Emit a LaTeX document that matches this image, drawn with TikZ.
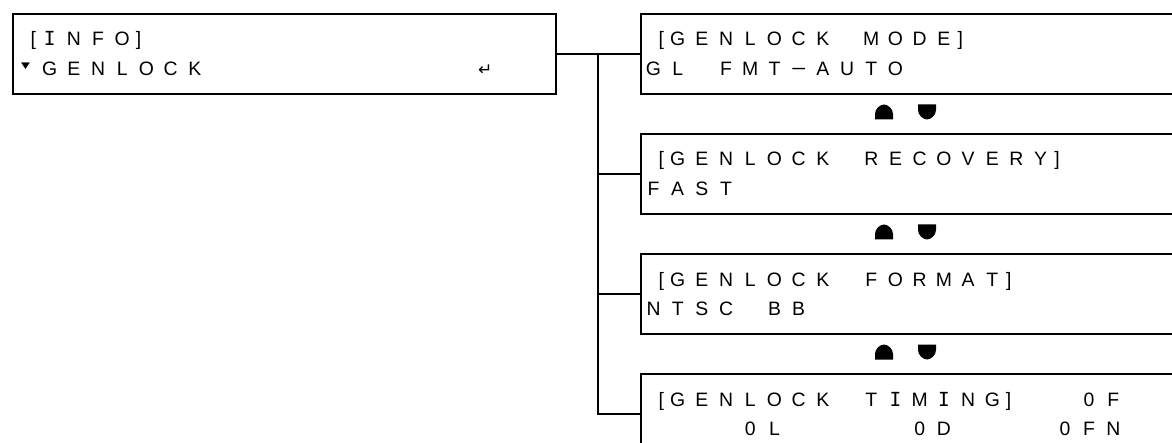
\documentclass[tikz,border=0pt]{standalone}
\usepackage{fontspec}
\usepackage{graphicx}
\setmainfont{Liberation Sans}
\newfontfamily\symfont{DejaVu Sans}
\newfontfamily\serifIfont{DejaVu Sans Mono}
\ExplSyntaxOn
\dim_new:N \l_lcd_cw_dim
\NewDocumentCommand\lcd{O{24.2}m}
  {
    \dim_set:Nn \l_lcd_cw_dim { #1pt / 2 }
    \tl_map_inline:nn {#2} { \makebox[\l_lcd_cw_dim][c]{##1} }
  }
\ExplSyntaxOff
\newcommand\lcdfont{\fontsize{9.7}{11}\selectfont}
\newcommand\lbk{\hfill[\hspace{0.8pt}}
\newcommand\rbk{\hspace{0.8pt}]\hfill}
\newcommand\lcdI{{\serifIfont I}}
\newcommand\dsh{\scalebox{1.35}[1]{−}}
\newcommand\tri{\raisebox{3.7pt}{\symfont\fontsize{5.8}{6}\selectfont\scalebox{1}[0.75]{▼}}}
\newcommand\ret{{\symfont\fontsize{8.5}{9}\selectfont ↵}}
\tikzset{
  lcdbox/.style={draw, line width=1pt, anchor=north west, inner sep=0pt,
    minimum height=40pt},
  lcd/.style={font=\lcdfont, inner sep=0pt, anchor=base west},
  wire/.style={line width=1pt},
  upmark/.pic={\fill (-9,7.5) -- (-9,2) .. controls (-9,-3) and (-4,-7.5) .. (0,-7.5)
     .. controls (4,-7.5) and (9,-3) .. (9,2) -- (9,7.5) -- cycle;},
  downmark/.pic={\fill (-9,-7.5) -- (-9,-2) .. controls (-9,3) and (-4,7.5) .. (0,7.5)
     .. controls (4,7.5) and (9,3) .. (9,-2) -- (9,-7.5) -- cycle;}
}
\begin{document}
\begin{tikzpicture}[x=0.5pt,y=-0.5pt]
\useasboundingbox (0,0) rectangle (1172,443);
\fill[white] (0,0) rectangle (1172,443);
\clip (0,0) rectangle (1172,443);
% boxes
\node[lcdbox, minimum width=271.5pt] (L) at (12,13) {};
\node[lcdbox, minimum width=290pt] (B1) at (640,13) {};
\node[lcdbox, minimum width=290pt] (B2) at (640,133) {};
\node[lcdbox, minimum width=290pt] (B3) at (640,253) {};
\node[lcdbox, minimum width=290pt] (B4) at (640,373) {};
% connectors
\coordinate (j) at (598,53);
\draw[wire] (L.east) -- (B1.west);
\draw[wire] (j) |- (B2.west);
\draw[wire] (j) |- (B3.west);
\draw[wire] (j) |- (B4.west);
% left box texts
\node[lcd] (Lt1) at (13,46) {\lcd{{\lbk}{\lcdI}NFO{\rbk}}};
\node[lcd] (Lt2) at (13,76) {\lcd{{\tri}GENLOCK~~~~~~~~~~~{\ret}}};
% box 1
\node[lcd] (B1a) at (641,46) {\lcd{{\lbk}GENLOCK~MODE{\rbk}}};
\node[lcd] (B1b) at (641,75.5) {\lcd{GL~FMT{\dsh}AUTO}};
% box 2
\node[lcd] (B2a) at (641,166) {\lcd{{\lbk}GENLOCK~RECOVERY{\rbk}}};
\node[lcd] (B2b) at (641,195.5) {\lcd{FAST}};
% box 3
\node[lcd] (B3a) at (641,286) {\lcd{{\lbk}GENLOCK~FORMAT{\rbk}}};
\node[lcd] (B3b) at (641,315.5) {\lcd{NTSC~BB}};
% box 4
\node[lcd] (B4a) at (641,406) {\lcd{{\lbk}GENLOCK~T{\lcdI}M{\lcdI}NG{\rbk}~~0F}};
\node[lcd] (B4b) at (641,435.5) {\lcd{~~~~0L~~~~~0D~~~~0FN}};
% scroll marks
\pic at (884,112) {upmark};
\pic at (927,112) {downmark};
\pic at (884,232) {upmark};
\pic at (927,232) {downmark};
\pic at (884,352) {upmark};
\pic at (927,352) {downmark};
\end{tikzpicture}
\end{document}
